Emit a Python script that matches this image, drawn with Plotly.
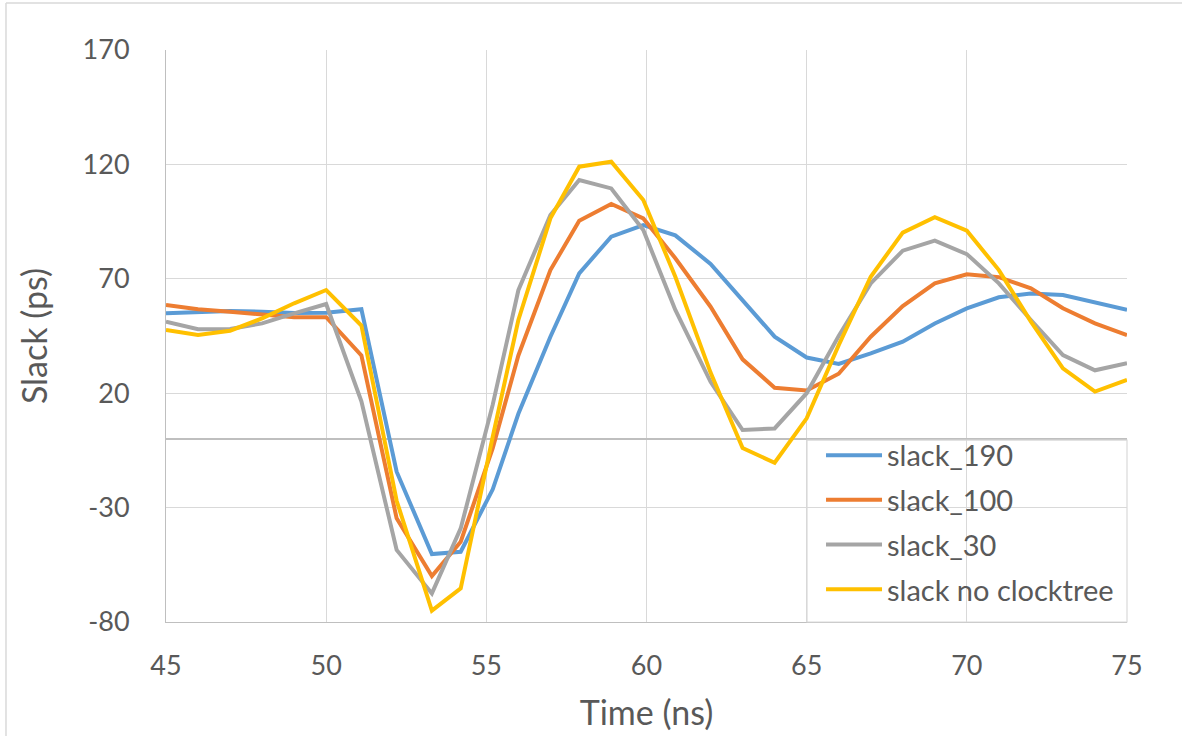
import plotly.graph_objects as go

# Simulation time stamps (ns)
time_ns = [45, 46, 47, 48, 49, 50, 51.1, 52.2, 53.3, 54.2, 55.2, 56, 57, 57.9, 58.9,
           59.9, 60.9, 62, 63, 64, 65, 66, 67, 68, 69, 70, 71, 72, 73, 74, 75]

# Slack (ps) for each clock-tree configuration
slack_190 = [54.9, 55.6, 55.9, 55.6, 55.0, 55.2, 56.7, -14.3, -50.3, -49.3, -22, 11, 44.7,
             72.4, 88.4, 93.5, 89, 76.5, 60.7, 44.7, 35.6, 32.8, 37.4, 42.5, 50.5, 57.1,
             61.9, 63.6, 62.9, 59.6, 56.4]
slack_100 = [58.6, 56.7, 55.6, 54.2, 53.2, 53.2, 36.5, -34.7, -59.9, -44.9, -4, 36.5, 73.8,
             95.4, 102.7, 96.4, 79, 57.8, 34.8, 22.4, 21.2, 28.5, 44.7, 58.1, 68, 72,
             70.7, 65.8, 57.1, 50.5, 45.4]
slack_30 = [51.3, 48, 48.1, 50.5, 54.9, 59, 16.5, -48.5, -67.5, -39.1, 15, 65, 97.9,
            113.2, 109.5, 91.3, 56.4, 25, 3.9, 4.6, 20, 45, 68, 82.3, 86.7, 80.8,
            68, 52, 36.7, 30, 33.1]
slack_no_ct = [47.6, 45.4, 47.3, 52.7, 59.3, 65.1, 49.6, -27, -75, -65.3, 1, 52, 96.4,
               119, 121.2, 104.4, 70.9, 29, -4, -10.4, 9, 41, 70.9, 90.2, 96.9, 91,
               73.8, 51.3, 30.9, 20.7, 25.8]

series_names = ["slack_190", "slack_100", "slack_30", "slack no clocktree"]
series_values = [slack_190, slack_100, slack_30, slack_no_ct]
series_colors = ["#5B9BD5", "#ED7D31", "#A5A5A5", "#FFC000"]

y_ticks = [-80, -30, 20, 70, 120, 170]
x_ticks = [45, 50, 55, 60, 65, 70, 75]

FONT = "Lato, Calibri, Carlito, sans-serif"
TEXT = "#595959"
GRID = "#D9D9D9"

fig = go.Figure()
for name, vals, col in zip(series_names, series_values, series_colors):
    fig.add_trace(go.Scatter(
        x=time_ns, y=vals, mode="lines", name=name, legendgroup=name,
        line=dict(color=col, width=4),
    ))

fig.update_layout(
    width=1182, height=736,
    margin=dict(l=166, r=55, t=50, b=114),
    paper_bgcolor="white", plot_bgcolor="white",
    font=dict(family=FONT, color=TEXT, size=26),
    showlegend=True,
    legend=dict(
        x=0.6816, y=0.336, xanchor="left", yanchor="top",
        bgcolor="rgba(0,0,0,0)", borderwidth=0,
        font=dict(family=FONT, size=29, color=TEXT),
        traceorder="grouped", tracegroupgap=4, itemwidth=56,
    ),
    xaxis=dict(
        range=[45, 75], tickvals=x_ticks, ticktext=[str(v) for v in x_ticks],
        showgrid=True, gridcolor=GRID, gridwidth=1,
        showline=True, linecolor="#BFBFBF", linewidth=1,
        zeroline=False, ticks="", ticklabelstandoff=20,
        tickfont=dict(size=27),
        title=dict(text="Time (ns)", font=dict(size=34), standoff=20),
    ),
    yaxis=dict(
        range=[-80, 170], tickvals=y_ticks, ticktext=[str(v) for v in y_ticks],
        showgrid=True, gridcolor=GRID, gridwidth=1,
        showline=True, linecolor="#BFBFBF", linewidth=1,
        zeroline=True, zerolinecolor="#BFBFBF", zerolinewidth=1.5,
        ticks="", ticklabelstandoff=30,
        tickfont=dict(size=27),
        title=dict(text="Slack (ps)", font=dict(size=34), standoff=24),
    ),
)

# Legend frame (its other sides fall on the zero line and plot edges)
fig.add_shape(type="rect", xref="paper", yref="paper",
              x0=0.667, x1=1.0, y0=0.0, y1=0.318,
              line=dict(color=GRID, width=1.2), layer="above")

# Chart-area frame
fig.add_shape(type="line", xref="paper", yref="paper",
              x0=-0.1665, x1=1.06, y0=1.0822, y1=1.0822,
              line=dict(color="#D9D9D9", width=1.5))
fig.add_shape(type="line", xref="paper", yref="paper",
              x0=-0.1665, x1=-0.1665, y0=1.0822, y1=-0.21,
              line=dict(color="#D9D9D9", width=1.5))

fig.write_html("out.html")
